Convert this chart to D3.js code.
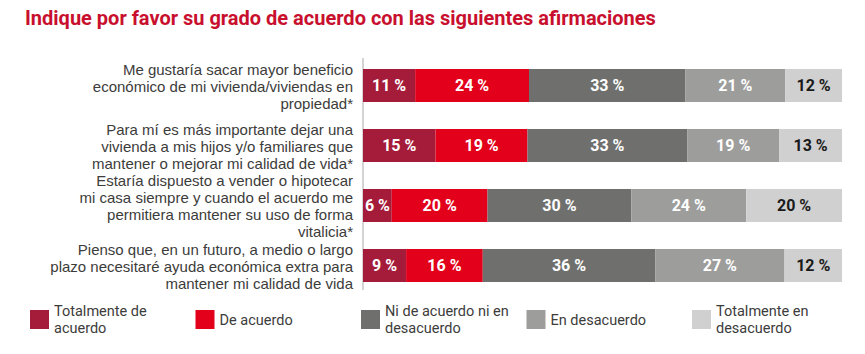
<!DOCTYPE html>
<html>
<head>
<meta charset="utf-8">
<script src="https://cdn.jsdelivr.net/npm/d3@7"></script>
<style>
  html, body { margin: 0; padding: 0; background: #fff; }
  svg { display: block; }
</style>
</head>
<body>
<svg id="chart" width="865" height="354"></svg>
<script>
const title = "Indique por favor su grado de acuerdo con las siguientes afirmaciones";
const categories = [
  ["Me gustaría sacar mayor beneficio", "económico de mi vivienda/viviendas en", "propiedad*"],
  ["Para mí es más importante dejar una", "vivienda a mis hijos y/o familiares que", "mantener o mejorar mi calidad de vida*"],
  ["Estaría dispuesto a vender o hipotecar", "mi casa siempre y cuando el acuerdo me", "permitiera mantener su uso de forma", "vitalicia*"],
  ["Pienso que, en un futuro, a medio o largo", "plazo necesitaré ayuda económica extra para", "mantener mi calidad de vida"]
];
const seriesNames = ["Totalmente de acuerdo", "De acuerdo", "Ni de acuerdo ni en desacuerdo", "En desacuerdo", "Totalmente en desacuerdo"];
const legendLines = [["Totalmente de", "acuerdo"], ["De acuerdo"], ["Ni de acuerdo ni en", "desacuerdo"], ["En desacuerdo"], ["Totalmente en", "desacuerdo"]];
const totalmenteDeAcuerdo = [11, 15, 6, 9];
const deAcuerdo = [24, 19, 20, 16];
const niNi = [33, 33, 30, 36];
const enDesacuerdo = [21, 19, 24, 27];
const totalmenteEnDesacuerdo = [12, 13, 20, 12];
const colors = ["#a51c3a", "#e2001a", "#6f6f6e", "#9d9d9c", "#d0d0d0"];
const labelColors = ["#ffffff", "#ffffff", "#ffffff", "#ffffff", "#1a1a1a"];

const series = [totalmenteDeAcuerdo, deAcuerdo, niNi, enDesacuerdo, totalmenteEnDesacuerdo];
const rows = categories.map((c, i) => {
  const vals = series.map(s => s[i]);
  const total = d3.sum(vals);
  let acc = 0;
  const segs = vals.map((v, k) => {
    const seg = { k, v, x0: acc / total, x1: (acc + v) / total };
    acc += v;
    return seg;
  });
  return { i, lines: c, segs };
});

const svg = d3.select("#chart");
const fontMain = "Roboto, 'Open Sans', sans-serif";
const fontLabel = "'Liberation Sans', Arial, sans-serif";

svg.append("text")
  .attr("x", 25).attr("y", 25)
  .attr("fill", "#c8102e")
  .attr("font-family", fontMain)
  .attr("font-weight", "bold")
  .attr("font-size", 20)
  .text(title);

const x = d3.scaleLinear().domain([0, 1]).range([363, 842]);
const y = d3.scaleBand().domain(d3.range(categories.length)).range([69, 282]).paddingInner(0.45).paddingOuter(0);

// axis line
svg.append("line")
  .attr("x1", x(0)).attr("x2", x(0))
  .attr("y1", 58).attr("y2", 290)
  .attr("stroke", "#a8a8a8").attr("stroke-width", 1);

const g = svg.append("g");
const row = g.selectAll("g.row").data(rows).join("g").attr("class", "row");

row.selectAll("rect").data(d => d.segs.map(s => ({ ...s, i: d.i }))).join("rect")
  .attr("x", d => x(d.x0))
  .attr("width", d => x(d.x1) - x(d.x0))
  .attr("y", d => y(d.i))
  .attr("height", y.bandwidth())
  .attr("fill", d => colors[d.k]);

row.selectAll("text.val").data(d => d.segs.map(s => ({ ...s, i: d.i }))).join("text")
  .attr("class", "val")
  .attr("x", d => (x(d.x0) + x(d.x1)) / 2)
  .attr("y", d => y(d.i) + y.bandwidth() / 2)
  .attr("dy", "0.36em")
  .attr("text-anchor", "middle")
  .attr("font-family", fontMain)
  .attr("font-weight", "bold")
  .attr("font-size", 16)
  .attr("fill", d => labelColors[d.k])
  .text(d => d.v + " %");

// category labels
const lh = 17;
row.append("text")
  .attr("text-anchor", "end")
  .attr("font-family", fontLabel)
  .attr("font-size", 15)
  .attr("fill", "#3c3c3b")
  .each(function(d) {
    const t = d3.select(this);
    const cy = y(d.i) + y.bandwidth() / 2 + 1;
    const n = d.lines.length;
    d.lines.forEach((ln, j) => {
      t.append("tspan")
        .attr("x", 353)
        .attr("y", cy + (j - (n - 1) / 2) * lh)
        .attr("dy", "0.35em")
        .text(ln);
    });
  });

// legend
const lx = d3.scalePoint().domain(d3.range(seriesNames.length)).range([30, 692]);
const leg = svg.append("g").selectAll("g").data(seriesNames).join("g")
  .attr("transform", (d, i) => `translate(${lx(i)},310)`);
leg.append("rect").attr("width", 19).attr("height", 19).attr("fill", (d, i) => colors[i]);
leg.append("text")
  .attr("font-family", fontMain)
  .attr("font-size", 14.5)
  .attr("fill", "#3c3c3b")
  .each(function(d, i) {
    const t = d3.select(this);
    const lines = legendLines[i];
    const n = lines.length;
    lines.forEach((ln, j) => {
      t.append("tspan").attr("x", 24)
        .attr("y", 9.5 + (j - (n - 1) / 2) * 17)
        .attr("dy", "0.35em")
        .text(ln);
    });
  });
</script>
</body>
</html>
